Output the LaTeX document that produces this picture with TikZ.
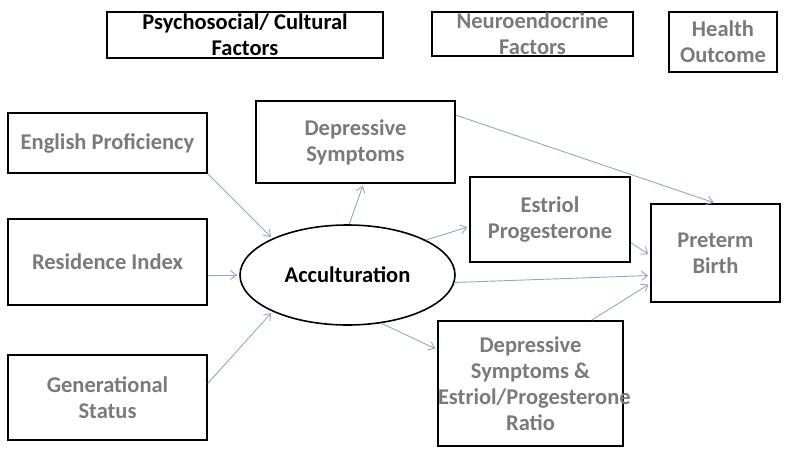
\documentclass[tikz,border=0pt]{standalone}
\usepackage{fontspec}
\setmainfont{Carlito}
\usetikzlibrary{arrows.meta}
\usetikzlibrary{positioning}
\usetikzlibrary{shapes}

\definecolor{labelgray}{HTML}{7A7A7A}
\definecolor{linkblue}{HTML}{8FA8C8}

\tikzset{
  factor/.style={draw, line width=1.6pt, rectangle, inner sep=0pt, align=center,
    text=labelgray, font=\bfseries\fontsize{22.5}{26}\selectfont},
  link/.style={draw=linkblue, line width=0.9pt, -{Straight Barb[length=6pt,width=9pt]}, shorten >=2pt}
}

\begin{document}
\begin{tikzpicture}[x=1pt, y=-1pt]
            \useasboundingbox (0,0) rectangle (800,455);
            % column headings
            \node[factor, text=black, minimum width=276pt, minimum height=46pt] (psych) at (245,35) {Psychosocial/ Cultural\\Factors};
            \node[factor, minimum width=201pt, minimum height=44pt] (neuro) at (532.5,34) {Neuroendocrine\\Factors};
            \node[factor, minimum width=108pt, minimum height=60pt] (health) at (723,42) {Health\\Outcome};
            % predictors
            \node[factor, minimum width=199pt, minimum height=60pt] (eng) at (107.5,143) {English Proficiency};
            \node[factor, minimum width=199pt, minimum height=86pt] (res) at (107.5,262) {Residence Index};
            \node[factor, minimum width=199pt, minimum height=85pt] (gen) at (107.5,397.5) {Generational\\Status};
            \node[draw, ellipse, line width=1.6pt, inner sep=0pt, minimum width=215pt, minimum height=100pt,
              font=\bfseries\fontsize{22.5}{26}\selectfont] (acc) at (347.5,275) {Acculturation};
            % mediators and outcome
            \node[factor, minimum width=199pt, minimum height=82pt] (dep) at (355.5,142) {Depressive\\Symptoms};
            \node[factor, minimum width=160pt, minimum height=85pt] (est) at (550,219.5) {Estriol\\Progesterone};
            \node[factor, align=flush center, text width=185pt, minimum height=125pt] (dse) at (530.5,383.5) {Depressive\\Symptoms \&\\Estriol/Progesterone\\Ratio};
            \node[factor, minimum width=129pt, minimum height=98pt] (pre) at (715.5,253) {Preterm\\Birth};
            % paths
            \draw[link] (eng.south east) -- (acc.154);
            \draw[link] (res.east |- acc.west) -- (acc.west);
            \draw[link] (gen.8) -- (acc.206);
            \draw[link] (acc.88) -- ([xshift=8pt]dep.south);
            \draw[link] (acc.24) -- (est.185);
            \draw[link] (acc.-4) -- (pre.199);
            \draw[link] (acc.-55) -- (dse.west |- dse.160);
            \draw[link] (dep.15) -- (pre.north);
            \draw[link] (est.-16) -- (pre.182);
            \draw[link] (dse.46) -- (pre.205);
        \end{tikzpicture}
\end{document}
